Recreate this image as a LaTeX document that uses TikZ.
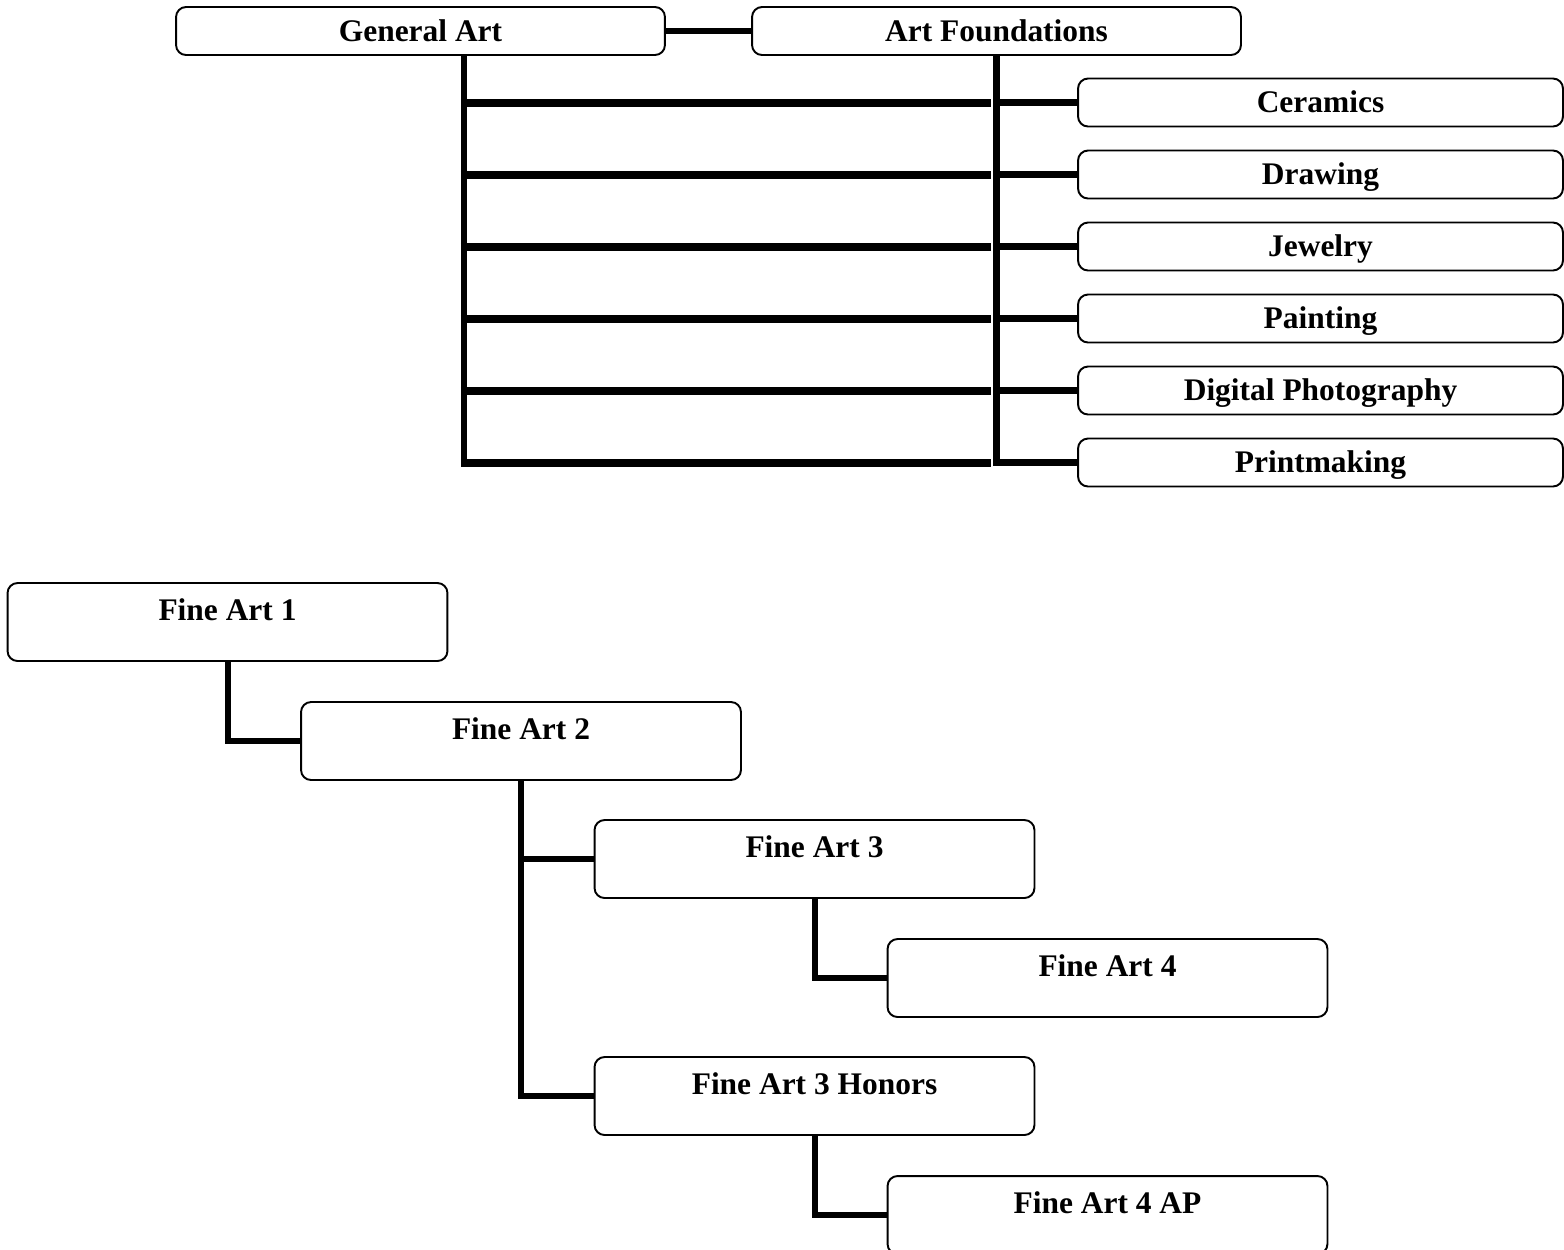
\documentclass[tikz,border=0pt]{standalone}
\usepackage{fontspec}
\setmainfont{Liberation Serif}
\begin{document}
\begin{tikzpicture}[x=0.02cm,y=-0.02cm]

    \tikzset{
      box/.style={
        draw,
        line width=1.1pt,
        rounded corners=0.2cm,
        inner ysep=0pt,
        font=\fontsize{17.9}{20}\selectfont\bfseries,
      },
      topbox/.style={box, minimum width=9.78cm, text height=0.68cm, text depth=0.28cm},
      sidebox/.style={box, minimum width=9.7cm, text height=0.68cm, text depth=0.28cm},
      finebox/.style={box, minimum width=8.8cm, text height=0.74cm, text depth=0.82cm},
      link/.style={line width=0.13cm},
      widelink/.style={line width=0.16cm},
      flink/.style={line width=0.12cm},
    }
    \useasboundingbox (0,0) rectangle (1564,1249);

	\node[topbox] (ga) at (420.5,31) {General Art};
	\node[topbox] (af) at (996.5,31) {Art Foundations};
	\node[sidebox] (cer) at (1320.5,102.5) {Ceramics};
	\node[sidebox] (dra) at (1320.5,174.5) {Drawing};
	\node[sidebox] (jew) at (1320.5,246.5) {Jewelry};
	\node[sidebox] (pai) at (1320.5,318.5) {Painting};
	\node[sidebox] (dig) at (1320.5,390.5) {Digital Photography};
	\node[sidebox] (pri) at (1320.5,462.5) {Printmaking};

	\draw[link] (ga.east) -- (af.west);
	\coordinate (gv) at ([xshift=0.87cm]ga.south);
	\draw[flink] (gv) -- ([yshift=-0.06cm]gv |- pri.west);
	\foreach \n in {cer,dra,jew,pai,dig,pri}{
	  \draw[widelink, shorten >=1.72cm] ([xshift=-0.06cm]gv |- \n.west) -- (\n.west);
	  \draw[link] (af.south) |- (\n.west);
	}

	\node[finebox] (fa1) at (227.5,622) {Fine Art 1};
	\node[finebox] (fa2) at (521,741) {Fine Art 2};
	\node[finebox] (fa3) at (814.5,859) {Fine Art 3};
	\node[finebox] (fa4) at (1107.5,978) {Fine Art 4};
	\node[finebox] (fa3h) at (814.5,1096) {Fine Art 3 Honors};
	\node[finebox] (fa4ap) at (1107.5,1215) {Fine Art 4 AP};

	\draw[flink] (fa1.south) |- (fa2.west);
	\draw[flink] (fa2.south) |- (fa3.west);
	\draw[flink] (fa2.south) |- (fa3h.west);
	\draw[flink] (fa3.south) |- (fa4.west);
	\draw[flink] (fa3h.south) |- (fa4ap.west);

\end{tikzpicture}
\end{document}
